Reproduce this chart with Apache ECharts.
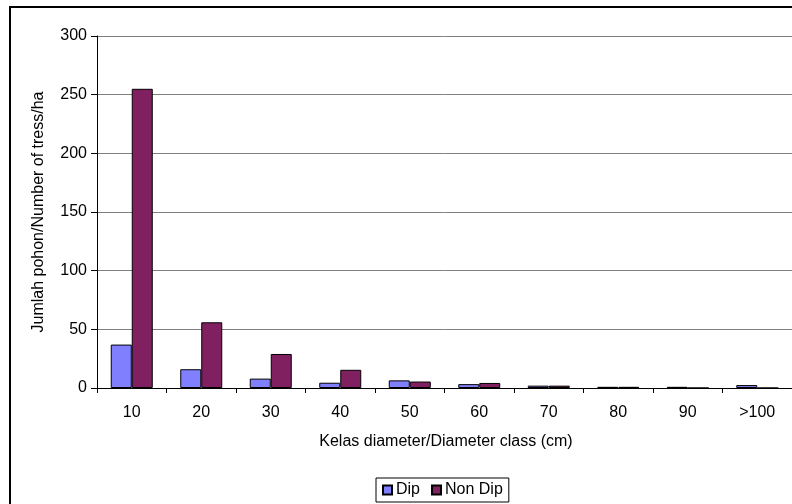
<!DOCTYPE html>
<html>
<head>
<meta charset="utf-8">
<script src="https://cdn.jsdelivr.net/npm/echarts@6/dist/echarts.min.js"></script>
<style>
html,body{margin:0;padding:0;background:#fff;}
#c{width:792px;height:504px;}
</style>
</head>
<body>
<div id="c"></div>
<script>
const categories = ['10','20','30','40','50','60','70','80','90','>100'];
const dipValues = [37, 16, 8, 4.5, 6.5, 3.3, 2, 1, 1, 2.5];
const nonDipValues = [255, 56, 29, 15.5, 5.5, 4.3, 2, 1, 0, 0];
const yTicks = {min: 0, max: 300, interval: 50};
const seriesNames = ['Dip', 'Non Dip'];
const xTitle = 'Kelas diameter/Diameter class (cm)';
const yTitle = 'Jumlah pohon/Number of tress/ha';

const FONT = 'Liberation Sans, Arial, sans-serif';
const chart = echarts.init(document.getElementById('c'), null, {renderer: 'canvas'});
chart.setOption({
  animation: false,
  backgroundColor: '#fff',
  textStyle: {fontFamily: FONT},
  grid: {left: 97, top: 36, width: 698, height: 352, containLabel: false},
  legend: {
    data: seriesNames,
    left: 376, top: 478,
    padding: [4, 6],
    itemWidth: 9, itemHeight: 9, itemGap: 11,
    borderColor: '#000', borderWidth: 1,
    icon: 'rect',
    textStyle: {fontFamily: FONT, fontSize: 16, color: '#000', padding: [0,0,0,-1]}
  },
  xAxis: {
    type: 'category',
    data: categories,
    boundaryGap: true,
    axisLine: {show: true, lineStyle: {color: '#000', width: 1}},
    axisTick: {show: true, alignWithLabel: false, length: 5, lineStyle: {color: '#000'}},
    axisLabel: {color: '#000', fontSize: 16, fontFamily: FONT, margin: 17, interval: 0},
    splitLine: {show: false}
  },
  yAxis: {
    type: 'value',
    min: yTicks.min, max: yTicks.max, interval: yTicks.interval,
    axisLine: {show: true, lineStyle: {color: '#000', width: 1}},
    axisTick: {show: true, length: 6, lineStyle: {color: '#000'}},
    axisLabel: {color: '#000', fontSize: 16, fontFamily: FONT, margin: 10},
    splitLine: {show: true, lineStyle: {color: '#808080', width: 1}}
  },
  graphic: [
    {type: 'rect', shape: {x: 10, y: 7, width: 900, height: 700}, style: {fill: 'none', stroke: '#000', lineWidth: 2}, silent: true, z: 100},
    {type: 'text', x: 39, y: 212, rotation: Math.PI / 2,
      style: {text: yTitle, fontSize: 16, fontFamily: FONT, fill: '#000', align: 'center', verticalAlign: 'middle'}},
    {type: 'text', x: 446, y: 442,
      style: {text: xTitle, fontSize: 16, fontFamily: FONT, fill: '#000', align: 'center', verticalAlign: 'middle'}}
  ],
  series: [
    {name: seriesNames[0], type: 'bar', data: dipValues, barWidth: 21, barGap: '0%',
      itemStyle: {color: '#8080FF', borderColor: '#000', borderWidth: 1}},
    {name: seriesNames[1], type: 'bar', data: nonDipValues, barWidth: 21, barGap: '0%',
      itemStyle: {color: '#802060', borderColor: '#000', borderWidth: 1}}
  ]
});
</script>
</body>
</html>
